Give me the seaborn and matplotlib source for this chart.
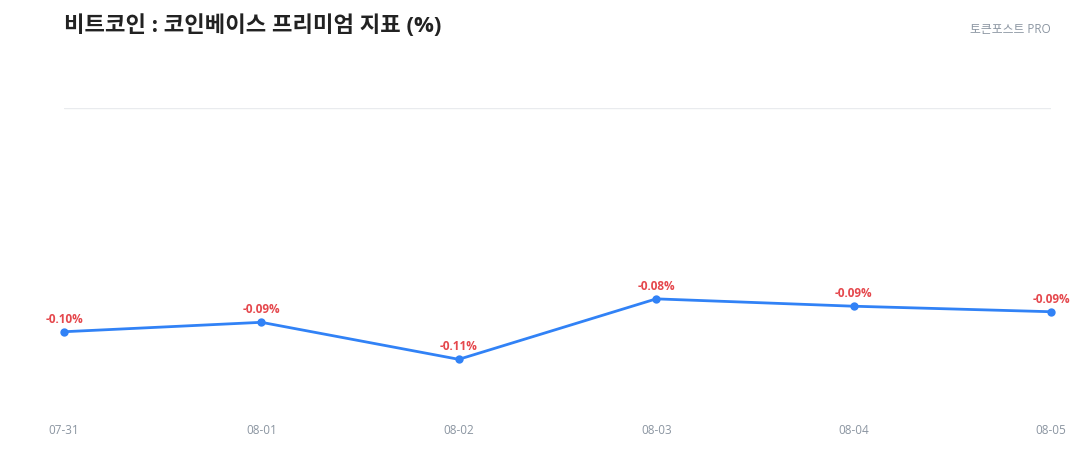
import matplotlib
matplotlib.use("Agg")
import matplotlib.pyplot as plt
import seaborn as sns
import pandas as pd

dates = ["07-31", "08-01", "08-02", "08-03", "08-04", "08-05"]
premium = [-0.0973, -0.0932, -0.1093, -0.0830, -0.0862, -0.0886]
title = "비트코인 : 코인베이스 프리미엄 지표 (%)"
source = "토큰포스트 PRO"

sns.set_style("white")
plt.rcParams['font.family'] = ['Open Sans', 'Noto Sans CJK KR', 'DejaVu Sans']

df = pd.DataFrame({"date": dates, "value": premium})

W, H = 1080, 460
fig = plt.figure(figsize=(W / 100, H / 100), dpi=100)
left, right, top, bottom = 64, 1051, 109, 410
ax = fig.add_axes([left / W, 1 - bottom / H, (right - left) / W, (bottom - top) / H])

line_color = "#3182f6"
sns.lineplot(data=df, x="date", y="value", ax=ax, color=line_color, linewidth=2,
             marker="o", markersize=6, markeredgewidth=0, sort=False)
for ln in ax.lines:
    ln.set_clip_on(False)

ax.set_xlim(0, len(dates) - 1)
ax.set_ylim(-0.1309, 0)
ax.set_yticks([0])
ax.set_yticklabels([])
ax.yaxis.grid(True, color="#e9ebee", linewidth=1)
ax.xaxis.grid(False)
for s in ax.spines.values():
    s.set_visible(False)
ax.tick_params(axis="y", length=0)
ax.tick_params(axis="x", length=0, labelsize=8.5, labelcolor="#8b95a1", pad=10)
ax.set_xlabel("")
ax.set_ylabel("")

for i, v in enumerate(premium):
    ax.annotate(f"{v:.2f}%", (i, v), xytext=(0, 5), textcoords="offset points",
                ha="center", va="bottom", fontsize=8.5, fontweight="bold",
                color="#e5484d", annotation_clip=False)

fig.text(left / W, 1 - 26 / H, title, fontsize=16, fontweight="bold",
         color="#222222", ha="left", va="center")
fig.text(right / W, 1 - 30 / H, source, fontsize=8.5, color="#8b95a1",
         ha="right", va="center")

fig.savefig("out.png", dpi=100, facecolor="white")
